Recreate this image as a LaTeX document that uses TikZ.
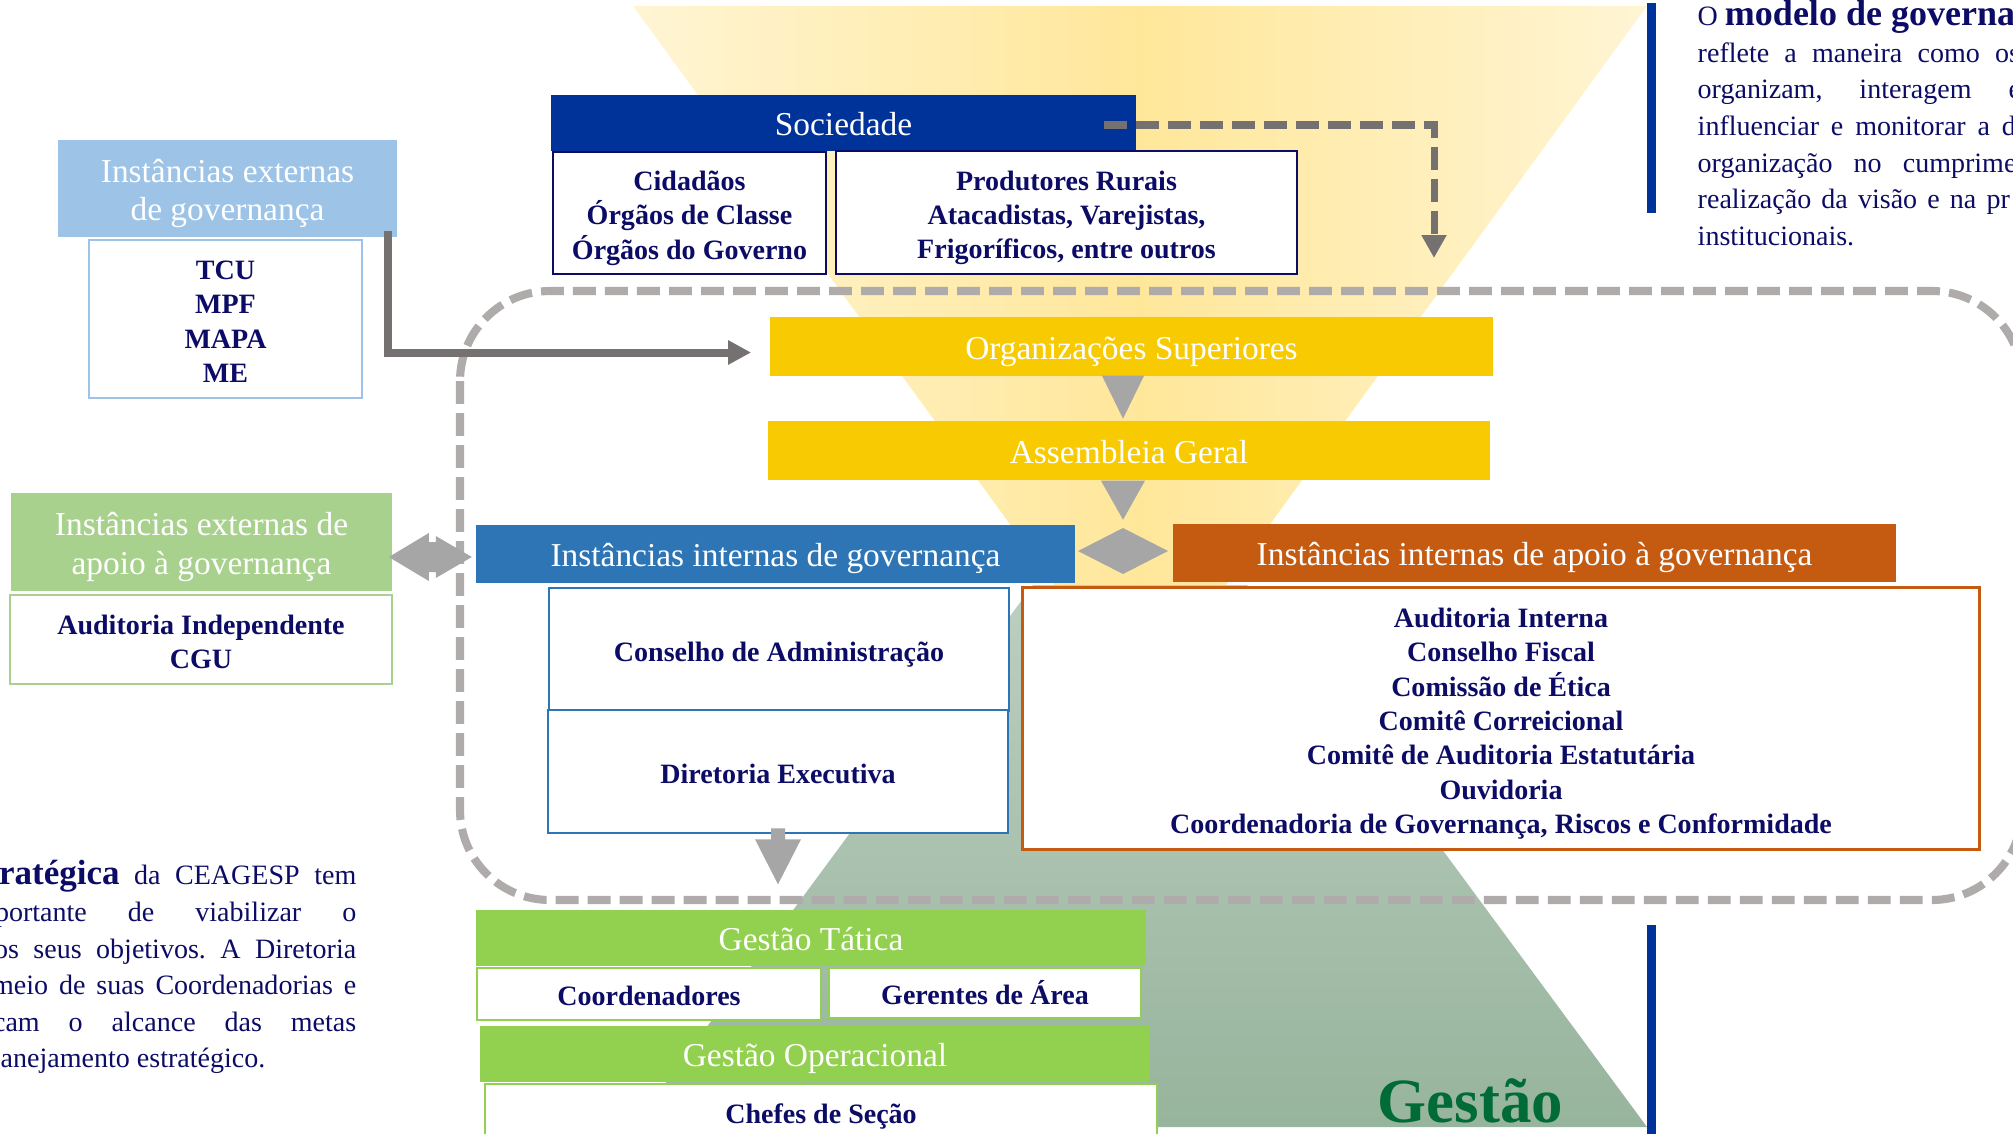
\documentclass[tikz,border=0pt]{standalone}
\usepackage{fontspec}
\setmainfont{Liberation Serif}
\usetikzlibrary{arrows.meta}
\frenchspacing

\definecolor{txtnavy}{HTML}{0C0C66}
\definecolor{socblue}{HTML}{003399}
\definecolor{lightblue}{HTML}{9DC3E6}
\definecolor{midblue}{HTML}{2E75B6}
\definecolor{orangebox}{HTML}{C55A11}
\definecolor{goldbox}{HTML}{F8CA02}
\definecolor{palegreen}{HTML}{A9D18E}
\definecolor{limegreen}{HTML}{92D050}
\definecolor{arrgray}{HTML}{A6A6A6}
\definecolor{arrdark}{HTML}{767171}
\definecolor{framegray}{HTML}{AFABAB}
\definecolor{gestgreen}{HTML}{006B36}
\definecolor{ypale}{HTML}{FFF5D4}
\definecolor{ydeep}{HTML}{FFE79A}
\definecolor{gtop}{HTML}{BCCFC1}
\definecolor{gbot}{HTML}{97B49C}

\newcommand{\headfont}{\fontsize{9.5pt}{11pt}\selectfont}
\newcommand{\listfont}{\fontsize{7.97pt}{9.76pt}\selectfont\bfseries}
\newcommand{\parafont}{\fontsize{7.97pt}{10.4pt}\selectfont}
\newcommand{\stack}[1]{\raisebox{0pt}[\dimexpr\height+2.9pt\relax]{\begin{tabular}{@{}c@{}}#1\end{tabular}}}

\tikzset{
  head/.style={rectangle, inner sep=0pt, text=white, font=\headfont},
  list/.style={rectangle, draw=#1, line width=0.71pt, fill=white, inner sep=0pt, text=txtnavy, font=\listfont},
  para/.style={inner sep=0pt, text=txtnavy, font=\parafont},
  blockarr/.style={fill=arrgray},
  elbowarr/.style={draw=arrdark, line width=2.28pt, -{Triangle[length=6.5pt,width=6.5pt]}},
  dasharr/.style={draw=arrdark, line width=2pt, dash pattern=on 6.5pt off 2.6pt, -{Triangle[length=6.5pt,width=6.7pt]}},
  govframe/.style={draw=framegray, line width=2.3pt, dash pattern=on 6.5pt off 2.6pt, rounded corners=0.9cm},
}

\begin{document}
\begin{tikzpicture}[x=0.01cm, y=-0.01cm]
        \useasboundingbox (0,0) rectangle (2013,1133);
        \clip (0,0) rectangle (2013,1133);

        \shade[left color=ypale, right color=ypale, middle color=ydeep] (633,6) -- (1647,6) -- (1140,703) -- cycle;
        \shade[top color=gtop, bottom color=gbot] (1033,585) -- (1247,585) -- (1647,1127) -- (633,1127) -- cycle;
        \draw[govframe] (460,291) rectangle (2022,900);
        \fill[socblue] (1647,3) rectangle (1656,213);
        \fill[socblue] (1647,925) rectangle (1656,1140);

        \node[head, fill=socblue, minimum width=5.85cm, minimum height=0.56cm] (soc) at (843.5,123) {\stack{Sociedade}};
        \node[list=txtnavy, minimum width=2.73cm, minimum height=1.22cm] (cid) at (689.5,213) {\stack{Cidadãos\\Órgãos de Classe\\Órgãos do Governo}};
        \node[list=txtnavy, minimum width=4.61cm, minimum height=1.23cm] (prod) at (1066.5,212.5) {\stack{Produtores Rurais\\Atacadistas, Varejistas,\\Frigoríficos, entre outros}};

        \node[head, fill=lightblue, minimum width=3.39cm, minimum height=0.97cm] (extgov) at (227.5,188.5) {\stack{Instâncias externas\\de governança}};
        \node[list=lightblue, minimum width=2.73cm, minimum height=1.58cm] (tcu) at (225.5,319) {\stack{TCU\\MPF\\MAPA\\ME}};

        \node[head, fill=goldbox, minimum width=7.23cm, minimum height=0.59cm] (orgsup) at (1131.5,346.5) {\stack{Organizações Superiores}};
        \node[head, fill=goldbox, minimum width=7.22cm, minimum height=0.59cm] (assemb) at (1129,450.5) {\stack{Assembleia Geral}};

        \node[head, fill=midblue, minimum width=5.99cm, minimum height=0.58cm] (intgov) at (775.5,554) {\stack{Instâncias internas de governança}};
        \node[head, fill=orangebox, minimum width=7.23cm, minimum height=0.58cm] (intapoio) at (1534.5,553) {\stack{Instâncias internas de apoio à governança}};

        \node[head, fill=palegreen, minimum width=3.81cm, minimum height=0.98cm] (extapoio) at (201.5,542) {\stack{Instâncias externas de\\apoio à governança}};
        \node[list=palegreen, minimum width=3.82cm, minimum height=0.89cm] (audind) at (201,639.5) {\stack{Auditoria Independente\\CGU}};

        \node[list=midblue, minimum width=4.6cm, minimum height=1.23cm] (conselho) at (779,649.5) {\stack{Conselho de Administração}};
        \node[list=midblue, minimum width=4.6cm, minimum height=1.23cm] (diretoria) at (778,771.5) {\stack{Diretoria Executiva}};
        \node[list=orangebox, line width=0.85pt, minimum width=9.56cm, minimum height=2.61cm] (apoiolist) at (1501,718.5) {\stack{Auditoria Interna\\Conselho Fiscal\\Comissão de Ética\\Comitê Correicional\\Comitê de Auditoria Estatutária\\Ouvidoria\\Coordenadoria de Governança, Riscos e Conformidade}};

        \node[head, fill=limegreen, minimum width=6.7cm, minimum height=0.56cm] (tatica) at (811,938) {\stack{Gestão Tática}};
        \node[list=limegreen, minimum width=3.44cm, minimum height=0.52cm] (coord) at (649,994) {\stack{Coordenadores}};
        \node[list=limegreen, minimum width=3.12cm, minimum height=0.5cm] (gerentes) at (985,993) {\stack{Gerentes de Área}};
        \node[head, fill=limegreen, minimum width=6.7cm, minimum height=0.56cm] (operac) at (815,1054) {\stack{Gestão Operacional}};
        \node[list=limegreen, minimum width=6.72cm, minimum height=0.56cm] (chefes) at (821,1112) {\stack{Chefes de Seção}};

        \coordinate (socin) at (1434,258);
        \coordinate (axis) at (1123,0);
        \draw[dasharr] ([shift={(-33,2)}]soc.east) -| (socin);
        \draw[elbowarr] ([shift={(-10,-7)}]extgov.south east) |- ([shift={(-18,6)}]orgsup.west);
        \fill[blockarr] (orgsup.south -| axis) ++(-21,-1) -- ++(42,0) -- ++(-21,43) -- cycle;
        \fill[blockarr] (assemb.south -| axis) ++(-22,0) -- ++(44,0) -- ++(-22,39) -- cycle;
        \fill[blockarr] (axis |- intgov.east) ++(-45,-3) -- ++(45,-23) -- ++(45,23) -- ++(-45,23) -- cycle;
        \fill[blockarr] (extapoio.east |- intgov.west) ++(-4,3) -- ++(40,-24) -- ++(0,9) -- ++(7,0) -- ++(0,-6) -- ++(36,21) -- ++(-36,21) -- ++(0,-6) -- ++(-7,0) -- ++(0,9) -- cycle;
        \fill[blockarr] ([shift={(-7,-6)}]diretoria.south) -- ++(14,0) -- ++(0,11) -- ++(16,0) -- ++(-23,45) -- ++(-23,-45) -- ++(16,0) -- cycle;

        \node[para, anchor=base west] (r1) at (1697,25) {O \textbf{\fontsize{10.24pt}{10.4pt}\selectfont modelo de governa}};
        \node[para, anchor=base west] (r2) at (1697,62) {\makebox[3.22cm][s]{reflete a maneira como os}};
        \node[para, anchor=base west] (r3) at (1697,98) {\makebox[3.23cm][s]{organizam, interagem e}};
        \node[para, anchor=base west] (r4) at (1697,135) {\makebox[3.18cm][s]{influenciar e monitorar a d}};
        \node[para, anchor=base west] (r5) at (1697,172) {\makebox[3.185cm][s]{organização no cumprime}};
        \node[para, anchor=base west] (r6) at (1697,208) {\makebox[3.12cm][s]{realização da visão e na pr}};
        \node[para, anchor=base west] (r7) at (1697,245) {institucionais.};

        \node[para, anchor=base east] (l1) at (357,884) {\makebox[3.57cm][s]{\textbf{\fontsize{9.96pt}{10.4pt}\selectfont ratégica} da CEAGESP tem}};
        \node[para, anchor=base east] (l2) at (357,921) {\makebox[3.61cm][s]{portante de viabilizar o}};
        \node[para, anchor=base east] (l3) at (357,958) {\makebox[3.62cm][s]{os seus objetivos. A Diretoria}};
        \node[para, anchor=base east] (l4) at (357,994) {\makebox[3.64cm][s]{meio de suas Coordenadorias e}};
        \node[para, anchor=base east] (l5) at (357,1031) {\makebox[3.63cm][s]{cam o alcance das metas}};
        \node[para, anchor=base west] (l6) at (0,1067) {anejamento estratégico.};

        \node[anchor=base west, inner sep=0pt, text=gestgreen, font=\fontsize{17.9pt}{20pt}\selectfont\bfseries] (gestao) at (1377,1122) {Gestão};
\end{tikzpicture}
\end{document}
